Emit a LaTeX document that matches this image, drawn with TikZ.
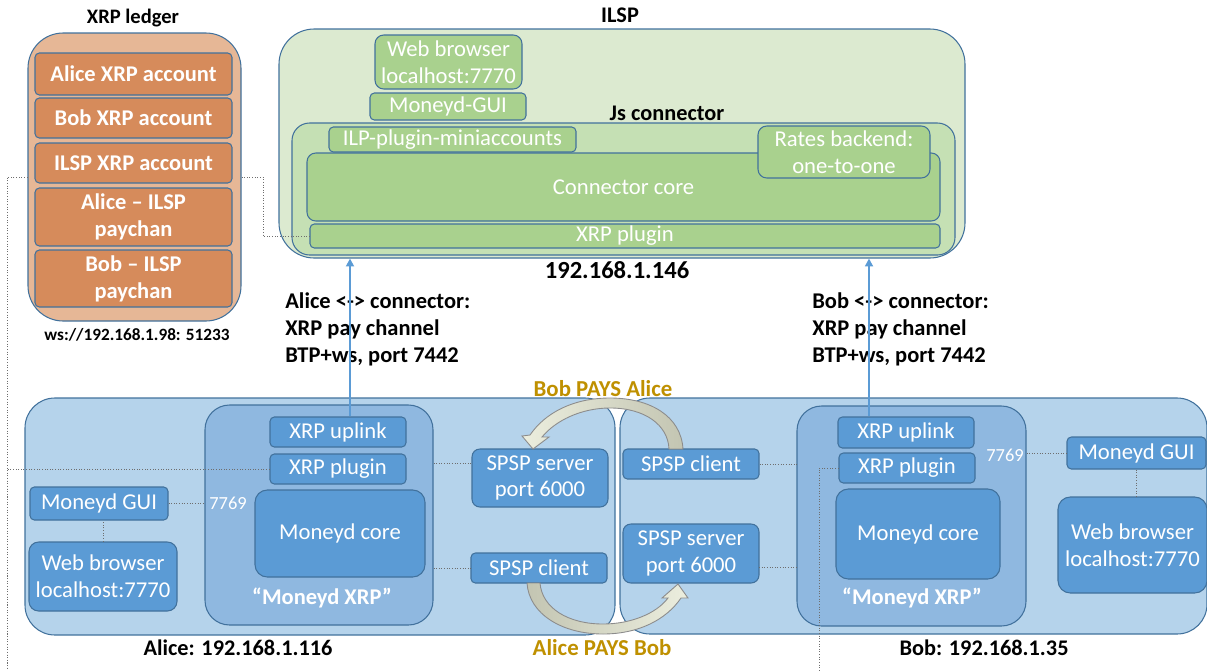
\documentclass[tikz,border=0pt]{standalone}
\usepackage{fontspec}
\setmainfont{Carlito}
\usetikzlibrary{arrows.meta}

\definecolor{edge}{HTML}{41719C}
\definecolor{ledgerbg}{HTML}{E6B796}
\definecolor{ledgerfill}{HTML}{D68B5B}
\definecolor{ilspbg}{HTML}{DCEAD0}
\definecolor{jsbg}{HTML}{C5E0B4}
\definecolor{ilspfill}{HTML}{A9D18E}
\definecolor{hostbg}{HTML}{B5D3EB}
\definecolor{moneydbg}{HTML}{8FB8E0}
\definecolor{bluefill}{HTML}{5B9BD5}
\definecolor{payfont}{HTML}{BF9000}
\definecolor{paylight}{HTML}{ECEEDE}
\definecolor{paydark}{HTML}{C3C5B2}
\definecolor{wirecol}{HTML}{6E6E6E}

\begin{document}
\begin{tikzpicture}[x=0.02cm, y=-0.02cm,
  box/.style 2 args = {draw=edge, line width=0.6pt, rounded corners=2.5pt,
    text=white, inner sep=0pt, align=center,
    minimum width={#1*0.02cm}, minimum height={#2*0.02cm},
    font=\fontsize{12.9}{15.3}\selectfont},
  acct/.style = {fill=ledgerfill, font=\bfseries\fontsize{12.8}{15.3}\selectfont},
  ilspbox/.style = {fill=ilspfill},
  hostbox/.style = {fill=bluefill},
  title/.style = {font=\bfseries\fontsize{11.7}{13}\selectfont},
  ipaddr/.style = {font=\bfseries\fontsize{12.7}{14}\selectfont},
  chan/.style = {font=\bfseries\fontsize{12.8}{15.3}\selectfont, align=left, anchor=west, inner sep=0pt},
  pays/.style = {font=\bfseries\fontsize{13}{14}\selectfont, text=payfont},
  port/.style = {font=\fontsize{10.5}{12}\selectfont, text=white, inner sep=0pt},
  wire/.style = {draw=wirecol, densely dotted, line width=0.5pt},
  link/.style = {draw=bluefill, line width=1.1pt, -{Triangle[length=4.5pt, width=4.5pt]}},
  payarrow/.style = {draw=black!45, line width=0.5pt}]

  \useasboundingbox (0,0) rectangle (1207,670);

  % XRP ledger
  \node[title] (ledgertitle) at (133,18) {XRP ledger};
  \node[box={213}{288}, fill=ledgerbg, rounded corners=20pt] (ledger) at (134.5,177) {};
  \node[box={197}{42}, acct] (aacc) at (133.5,74) {Alice XRP account};
  \node[box={197}{40}, acct] (bacc) at (133.5,118) {Bob XRP account};
  \node[box={197}{40}, acct] (iacc) at (133.5,163) {ILSP XRP account};
  \node[box={197}{58}, acct] (achan) at (133.5,217) {Alice -- ILSP\\paychan};
  \node[box={197}{57}, acct] (bchan) at (133.5,278.5) {Bob -- ILSP\\paychan};
  \node[title, font=\bfseries\fontsize{9.8}{11}\selectfont] (ledgerip) at (137,335) {ws://192.168.1.98: 51233};

  % ILSP
  \node[ipaddr] (ilsptitle) at (620,15) {ILSP};
  \node[box={686}{229}, fill=ilspbg, rounded corners=20pt] (ilsp) at (622,143.5) {};
  \node[box={147}{54}, ilspbox, rounded corners=5pt] (ilspweb) at (448.5,62) {Web browser\\localhost:7770};
  \node[box={156}{27}, ilspbox] (ilspgui) at (448,106.5) {Moneyd-GUI};
  \node[ipaddr] (jstitle) at (667,113) {Js connector};
  \node[box={663}{132}, fill=jsbg, rounded corners=10pt] (js) at (623.5,189) {};
  \node[box={633}{68}, ilspbox, rounded corners=5pt] (core) at (623.5,187) {Connector core};
  \node[box={247}{25}, ilspbox] (mini) at (452.5,139.5) {ILP-plugin-miniaccounts};
  \node[box={172}{52}, ilspbox, rounded corners=5pt] (rates) at (844,152) {Rates backend:\\one-to-one};
  \node[box={630}{24}, ilspbox] (ilspplug) at (625,236) {XRP plugin};
  \node[ipaddr, font=\bfseries\fontsize{14}{15}\selectfont] (ilspip) at (617,270) {192.168.1.146};

  % Alice host
  \node[box={590}{237}, fill=hostbg, rounded corners=17pt] (alice) at (320,516.5) {};
  \node[box={228}{220}, fill=moneydbg, rounded corners=14pt] (amxrp) at (319,515) {};
  \node[box={136}{30}, hostbox] (auplink) at (338,432) {XRP uplink};
  \node[box={136}{30}, hostbox] (aplug) at (338,469) {XRP plugin};
  \node[box={170}{87}, hostbox, rounded corners=7pt] (acore) at (340,533.5) {Moneyd core};
  \node[acct, fill=none, text=white] (aname) at (322,598) {``Moneyd XRP''};
  \node[port] (a7769) at (228,503) {7769};
  \node[box={138}{33}, hostbox] (agui) at (99,503.5) {Moneyd GUI};
  \node[box={148}{69}, hostbox, rounded corners=5.5pt] (aweb) at (103,576.5) {Web browser\\localhost:7770};
  \node[box={136}{58}, hostbox, rounded corners=4.5pt] (aspsps) at (540,478) {SPSP server\\port 6000};
  \node[box={136}{30}, hostbox] (aspspc) at (539,568) {SPSP client};
  \node[ipaddr] (aliceip) at (238,648) {Alice: 192.168.1.116};

  % Bob host
  \node[box={587}{236}, fill=hostbg, rounded corners=17pt] (bob) at (913.5,516) {};
  \node[box={229}{220}, fill=moneydbg, rounded corners=14pt] (bmxrp) at (911.5,516) {};
  \node[box={136}{31}, hostbox] (buplink) at (906,432.5) {XRP uplink};
  \node[box={136}{30}, hostbox] (bplug) at (907,468) {XRP plugin};
  \node[box={164}{90}, hostbox, rounded corners=7pt] (bcore) at (918,534) {Moneyd core};
  \node[acct, fill=none, text=white] (bname) at (912,598) {``Moneyd XRP''};
  \node[port] (b7769) at (1005,455) {7769};
  \node[box={139}{32}, hostbox] (bgui) at (1136.5,453) {Moneyd GUI};
  \node[box={149}{96}, hostbox, rounded corners=7pt] (bweb) at (1132.5,545) {Web browser\\localhost:7770};
  \node[box={136}{30}, hostbox] (bspspc) at (691,464) {SPSP client};
  \node[box={136}{59}, hostbox, rounded corners=4.5pt] (bspsps) at (691,553.5) {SPSP server\\port 6000};
  \node[ipaddr] (bobip) at (984,648) {Bob: 192.168.1.35};

  % channel labels
  \node[chan] (achanlbl) at (285,329) {Alice <-> connector:\\XRP pay channel\\BTP+ws, port 7442};
  \node[chan] (bchanlbl) at (812,329) {Bob <-> connector:\\XRP pay channel\\BTP+ws, port 7442};
  \node[pays] (bpaysa) at (603,389) {Bob PAYS Alice};
  \node[pays] (apaysb) at (602,648) {Alice PAYS Bob};

  % dotted wiring
  \coordinate (lft) at (7,670);
  \coordinate (rjog) at (263,177);
  \coordinate (bdn) at (819,670);
  \coordinate (asrv) at (472,463);
  \coordinate (bsrv) at (759,567);
  \draw[wire] (ledger.west) -| (lft);
  \draw[wire] (aplug.west) -| (lft);
  \draw[wire] (ledger.east) -- (rjog) |- (ilspplug.west);
  \draw[wire] (bplug.west) -| (bdn);
  \draw[wire] (agui.east) -- (agui.east -| amxrp.west);
  \draw[wire] (aweb.north) -- (aweb.north |- agui.south);
  \draw[wire] (amxrp.east |- asrv) -- (asrv);
  \draw[wire] (amxrp.east |- aspspc.west) -- (aspspc.west);
  \draw[wire] (bspspc.east) -- (bspspc.east -| bmxrp.west);
  \draw[wire] (bsrv) -- (bsrv -| bmxrp.west);
  \draw[wire] (bgui.west -| bmxrp.east) -- (bgui.west);
  \draw[wire] (bgui.south) -- (bgui.south |- bweb.north);

  % pay channels to the connector
  \coordinate (aup) at (350,0);
  \coordinate (bup) at (869,0);
  \draw[link] (auplink.north -| aup) -- (ilsp.south -| aup);
  \draw[link] (buplink.north -| bup) -- (ilsp.south -| bup);

  % payment arrows
  \draw[payarrow, left color=paylight, right color=paydark]
    (683,449) .. controls (681,416) and (650,398) .. (610,398)
    .. controls (573,398) and (545,413) .. (530,435)
    -- (522,436) -- (533,449) -- (549,437) -- (542,437)
    .. controls (556,420) and (582,408) .. (610,408)
    .. controls (645,408) and (668,425) .. (669,449) -- cycle;
  \draw[payarrow, left color=paydark, right color=paylight]
    (527,583) .. controls (529,614) and (562,634) .. (603,634)
    .. controls (638,634) and (666,620) .. (681,598)
    -- (688,598) -- (678,584) -- (662,598) -- (668,598)
    .. controls (656,614) and (630,624) .. (603,624)
    .. controls (568,624) and (542,608) .. (540,583) -- cycle;
\end{tikzpicture}
\end{document}
